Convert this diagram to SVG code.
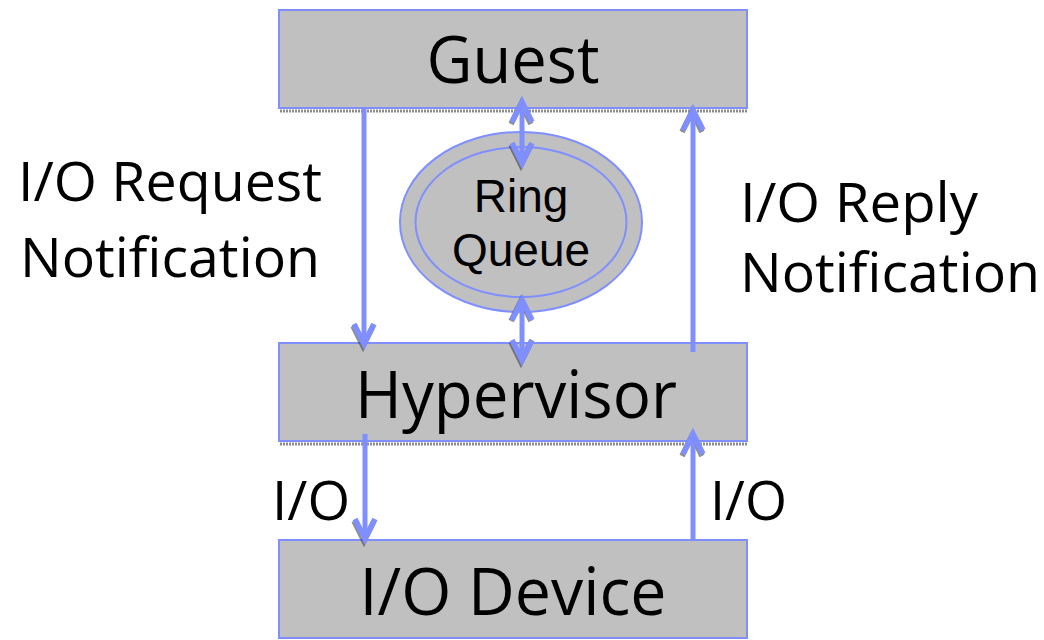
<svg xmlns="http://www.w3.org/2000/svg" width="1044" height="640" viewBox="0 0 1044 640">
<style>
.box{fill:#c0c0c0;stroke:#7f8fff;stroke-width:2}
.shadow{stroke:#8c8c8c;stroke-width:3;stroke-dasharray:2 1}
.big{font-family:"Open Sans",sans-serif;font-size:66px;fill:#000;text-anchor:middle}
.lbl{font-family:"Open Sans",sans-serif;font-size:54px;fill:#000}
.rq{font-family:"Liberation Sans",Arial,sans-serif;font-size:46px;fill:#000;text-anchor:middle}
.ln{stroke:#7f8fff;stroke-width:5;fill:none}
.hd{stroke:#7f8fff;stroke-width:5.5;fill:none;stroke-linejoin:miter;stroke-linecap:butt}
.hs{stroke:#333;stroke-width:5.5;fill:none;opacity:0.55}
.ell{fill:#c0c0c0;stroke:#7f8fff;stroke-width:2}
</style>
<g id="guest">
<line class="shadow" x1="280" y1="111" x2="747" y2="111"/>
<rect class="box" x="279" y="10" width="468" height="98"/>
<text class="big" x="513" y="83" textLength="173" lengthAdjust="spacingAndGlyphs">Guest</text>
</g>
<g id="hypervisor">
<line class="shadow" x1="280" y1="444" x2="747" y2="444"/>
<rect class="box" x="279" y="343" width="468" height="98"/>
<text class="big" x="516" y="418" textLength="322" lengthAdjust="spacingAndGlyphs">Hypervisor</text>
</g>
<g id="iodevice">
<rect class="box" x="279" y="540" width="468" height="98"/>
<text class="big" x="513" y="615" textLength="307" lengthAdjust="spacingAndGlyphs">I/O Device</text>
</g>
<g id="ringqueue">
<ellipse class="ell" cx="521" cy="222" rx="121" ry="90"/>
<ellipse class="ell" cx="521" cy="222" rx="105.5" ry="75"/>
<text class="rq" x="521" y="212">Ring</text>
<text class="rq" x="521" y="266">Queue</text>
</g>
<g id="labels">
<text class="lbl" x="18" y="201" textLength="304" lengthAdjust="spacingAndGlyphs">I/O Request</text>
<text class="lbl" x="20" y="277" textLength="300" lengthAdjust="spacingAndGlyphs">Notification</text>
<text class="lbl" x="740" y="222" textLength="238" lengthAdjust="spacingAndGlyphs">I/O Reply</text>
<text class="lbl" x="740" y="292" textLength="300" lengthAdjust="spacingAndGlyphs">Notification</text>
<text class="lbl" x="272" y="520" textLength="78" lengthAdjust="spacingAndGlyphs">I/O</text>
<text class="lbl" x="710" y="520" textLength="77" lengthAdjust="spacingAndGlyphs">I/O</text>
</g>
<g id="connectors">
<!-- shadows of heads -->
<polyline class="hs" points="353,326 363,346 373,326"/>
<polyline class="hs" points="511,145 521,165 531,145"/>
<polyline class="hs" points="511,342 521,362 531,342"/>
<polyline class="hs" points="354,521 364,541 374,521"/>
<polyline class="hs" points="682,132 692,112 702,132"/>
<polyline class="hs" points="682,456 692,436 702,456"/>
<polyline class="hs" points="511,124 521,104 531,124"/>
<polyline class="hs" points="511,321 521,301 531,321"/>
<!-- Guest -> Hypervisor -->
<line class="ln" x1="364" y1="109" x2="364" y2="340"/>
<polyline class="hd" points="354,324 364,344 374,324"/>
<!-- Guest <-> Ring -->
<line class="ln" x1="522" y1="105" x2="522" y2="160"/>
<polyline class="hd" points="512,122 522,102 532,122"/>
<polyline class="hd" points="512,143 522,163 532,143"/>
<!-- Ring <-> Hypervisor -->
<line class="ln" x1="522" y1="303" x2="522" y2="357"/>
<polyline class="hd" points="512,320 522,300 532,320"/>
<polyline class="hd" points="512,340 522,360 532,340"/>
<!-- Hypervisor -> Guest -->
<line class="ln" x1="693" y1="352" x2="693" y2="113"/>
<polyline class="hd" points="683,130 693,110 703,130"/>
<!-- Hypervisor -> IO Device -->
<line class="ln" x1="365" y1="434" x2="365" y2="535"/>
<polyline class="hd" points="355,519 365,539 375,519"/>
<!-- IO Device -> Hypervisor -->
<line class="ln" x1="693" y1="540" x2="693" y2="437"/>
<polyline class="hd" points="683,454 693,434 703,454"/>
</g>
</svg>
